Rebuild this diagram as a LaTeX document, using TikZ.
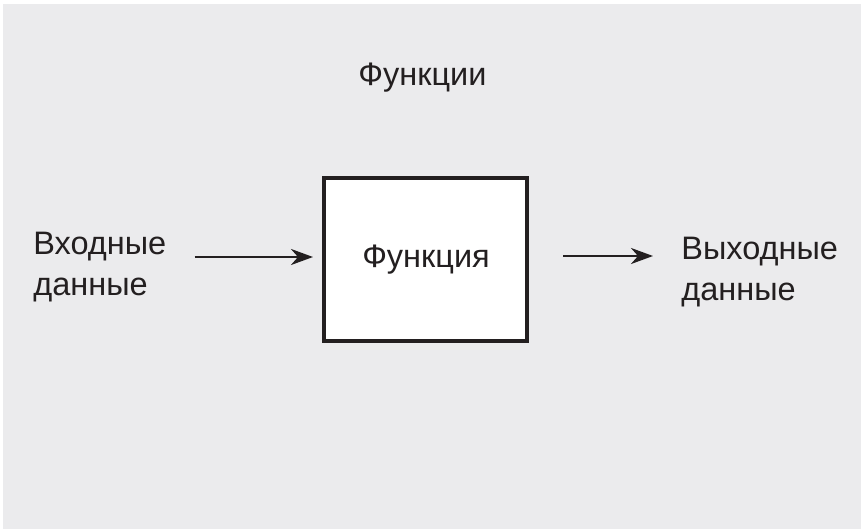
\documentclass[tikz,border=0pt]{standalone}
\usepackage{fontspec}
\setmainfont{Liberation Sans}
\usetikzlibrary{arrows.meta}
\definecolor{bggray}{HTML}{EBEBED}
\definecolor{ink}{HTML}{231F20}
\tikzset{every picture/.style={line width=0.75pt}}
\tikzset{
  label text/.style={text=ink, inner sep=0pt, font=\fontsize{32.5}{41}\selectfont, align=left},
  flow/.style={draw=ink, line width=2.6pt, -{Stealth[length=22pt, width=16pt, inset=7pt]}}
}

\begin{document}
\begin{tikzpicture}[x=1pt,y=1pt,yscale=-1,xscale=1]
		\useasboundingbox (0,0) rectangle (861,529);
		%Shape: Background
		\fill[bggray] (3,4) rectangle (861,529);
		% Text Node
		\node (title) [label text, anchor=base] at (422.5,86) {Функции};
		%Shape: Square
		\node (func) [draw=ink, line width=4pt, fill=white, minimum width=203pt, minimum height=163pt, inner sep=0pt] at (425.5,259.5) {};
		% Text Node
		\node (functext) [label text, anchor=base] at (426,267) {Функция};
		% Text Node
		\node (inp) [label text, anchor=north west] at (33,232) {Входные\\данные};
		% Text Node
		\node (outp) [label text, anchor=north west] at (681,237) {Выходные\\данные};
		% Arrows
		\draw[flow, shorten <=28pt, shorten >=9pt] (inp.east |- 0,257) -- (func.west |- 0,257);
		\draw[flow, shorten <=34pt, shorten >=28pt] (func.east |- 0,256) -- (outp.west |- 0,256);
	\end{tikzpicture}
\end{document}
